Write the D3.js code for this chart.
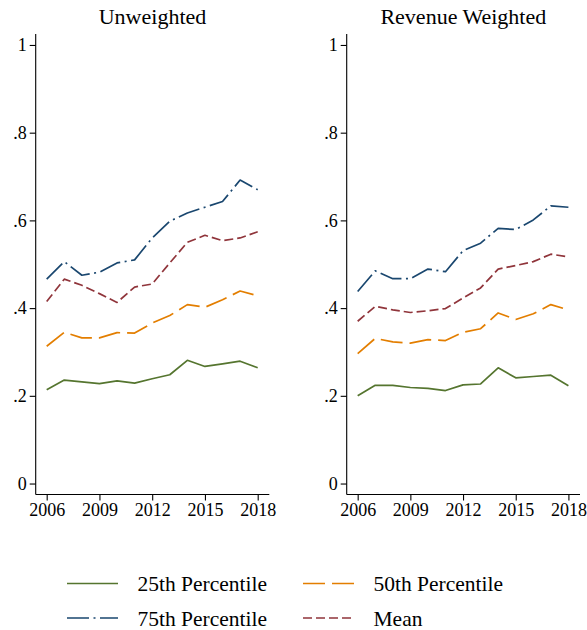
<!DOCTYPE html>
<html>
<head>
<meta charset="utf-8">
<script src="https://cdn.jsdelivr.net/npm/d3@7"></script>
<style>
  html, body { margin: 0; padding: 0; background: #fff; }
  svg { display: block; }
  text { font-family: "Liberation Serif", "Times New Roman", serif; fill: #000; }
</style>
</head>
<body>
<svg id="chart" width="587" height="630"></svg>
<script>
// ---- data ----
const years = [2006, 2007, 2008, 2009, 2010, 2011, 2012, 2013, 2014, 2015, 2016, 2017, 2018];
const yTicks = [0, 0.2, 0.4, 0.6, 0.8, 1];
const yTickLabels = ["0", ".2", ".4", ".6", ".8", "1"];
const xTicks = [2006, 2009, 2012, 2015, 2018];
const panelTitles = ["Unweighted", "Revenue Weighted"];
const seriesNames = ["25th Percentile", "50th Percentile", "75th Percentile", "Mean"];

// Unweighted
const unw_p25  = [0.214, 0.236, 0.232, 0.228, 0.234, 0.229, 0.239, 0.248, 0.281, 0.267, 0.273, 0.279, 0.264];
const unw_p50  = [0.313, 0.345, 0.332, 0.332, 0.344, 0.343, 0.366, 0.383, 0.408, 0.402, 0.419, 0.439, 0.428];
const unw_p75  = [0.466, 0.506, 0.475, 0.482, 0.503, 0.510, 0.560, 0.598, 0.617, 0.630, 0.643, 0.692, 0.670];
const unw_mean = [0.415, 0.466, 0.452, 0.433, 0.413, 0.448, 0.455, 0.503, 0.550, 0.566, 0.554, 0.560, 0.574];

// Revenue weighted
const rev_p25  = [0.200, 0.224, 0.224, 0.219, 0.217, 0.212, 0.225, 0.227, 0.264, 0.241, 0.244, 0.247, 0.223];
const rev_p50  = [0.296, 0.331, 0.323, 0.320, 0.328, 0.326, 0.345, 0.353, 0.389, 0.374, 0.387, 0.408, 0.396];
const rev_p75  = [0.438, 0.485, 0.467, 0.467, 0.489, 0.483, 0.531, 0.548, 0.582, 0.579, 0.601, 0.633, 0.630];
const rev_mean = [0.370, 0.404, 0.396, 0.390, 0.394, 0.399, 0.423, 0.446, 0.489, 0.497, 0.506, 0.523, 0.517];

// ---- styles ----
const colors = ["#55752f", "#e37e00", "#1a476f", "#90353b"];
const dashes = [null, "22,7", "22,4.5,2,4.5", "9,4"];

const panels = [
  { title: panelTitles[0], series: [unw_p25, unw_p50, unw_p75, unw_mean], x0: 35.7, x1: 269.3 },
  { title: panelTitles[1], series: [rev_p25, rev_p50, rev_p75, rev_mean], x0: 346.7, x1: 580 }
];

const svg = d3.select("#chart");
const yTop = 34, yBot = 494.5;
const y = d3.scaleLinear().domain([-0.025, 1.025]).range([yBot, yTop]);

panels.forEach(p => {
  const x = d3.scaleLinear().domain([2005.375, 2018.66]).range([p.x0, p.x1]);
  const g = svg.append("g");

  // title
  g.append("text")
    .attr("x", (p.x0 + p.x1) / 2).attr("y", 24)
    .attr("text-anchor", "middle")
    .style("font-size", "22px")
    .text(p.title);

  // y axis
  const yAxis = d3.axisLeft(y).tickValues(yTicks)
    .tickFormat((d, i) => yTickLabels[i]).tickSize(6).tickPadding(3);
  const ya = g.append("g").attr("transform", `translate(${p.x0},0)`).call(yAxis);
  ya.select(".domain").attr("d", `M0,${yTop}V${yBot}`).attr("stroke", "#000").attr("stroke-width", 1.1);
  ya.selectAll(".tick line").attr("stroke", "#000").attr("stroke-width", 1.1);
  ya.selectAll(".tick text").style("font-size", "18px")
    .style("font-family", "'Liberation Serif', serif").attr("fill", "#000");

  // x axis
  const xAxis = d3.axisBottom(x).tickValues(xTicks).tickFormat(d3.format("d")).tickSize(6).tickPadding(3);
  const xa = g.append("g").attr("transform", `translate(0,${yBot})`).call(xAxis);
  xa.select(".domain").attr("d", `M${p.x0},0H${p.x1}`).attr("stroke", "#000").attr("stroke-width", 1.1);
  xa.selectAll(".tick line").attr("stroke", "#000").attr("stroke-width", 1.1);
  xa.selectAll(".tick text").style("font-size", "18px")
    .style("font-family", "'Liberation Serif', serif").attr("fill", "#000");

  // lines
  const line = d3.line().x((d, i) => x(years[i])).y(d => y(d));
  p.series.forEach((s, k) => {
    g.append("path").datum(s)
      .attr("d", line)
      .attr("fill", "none")
      .attr("stroke", colors[k])
      .attr("stroke-width", 1.7)
      .attr("stroke-linejoin", "round")
      .attr("stroke-dasharray", dashes[k]);
  });
});

// legend
const legendPos = [
  { lx: 67, ty: 583.5 }, { lx: 303, ty: 583.5 },
  { lx: 67, ty: 618 }, { lx: 303, ty: 618 }
];
seriesNames.forEach((name, k) => {
  const lp = legendPos[k];
  const lg = svg.append("g");
  lg.append("line")
    .attr("x1", lp.lx).attr("x2", lp.lx + 51)
    .attr("y1", lp.ty).attr("y2", lp.ty)
    .attr("stroke", colors[k]).attr("stroke-width", 1.7)
    .attr("stroke-dasharray", dashes[k]);
  lg.append("text")
    .attr("x", lp.lx + 70.5).attr("y", lp.ty + 7.5)
    .style("font-size", "21.5px")
    .text(name);
});
</script>
</body>
</html>
